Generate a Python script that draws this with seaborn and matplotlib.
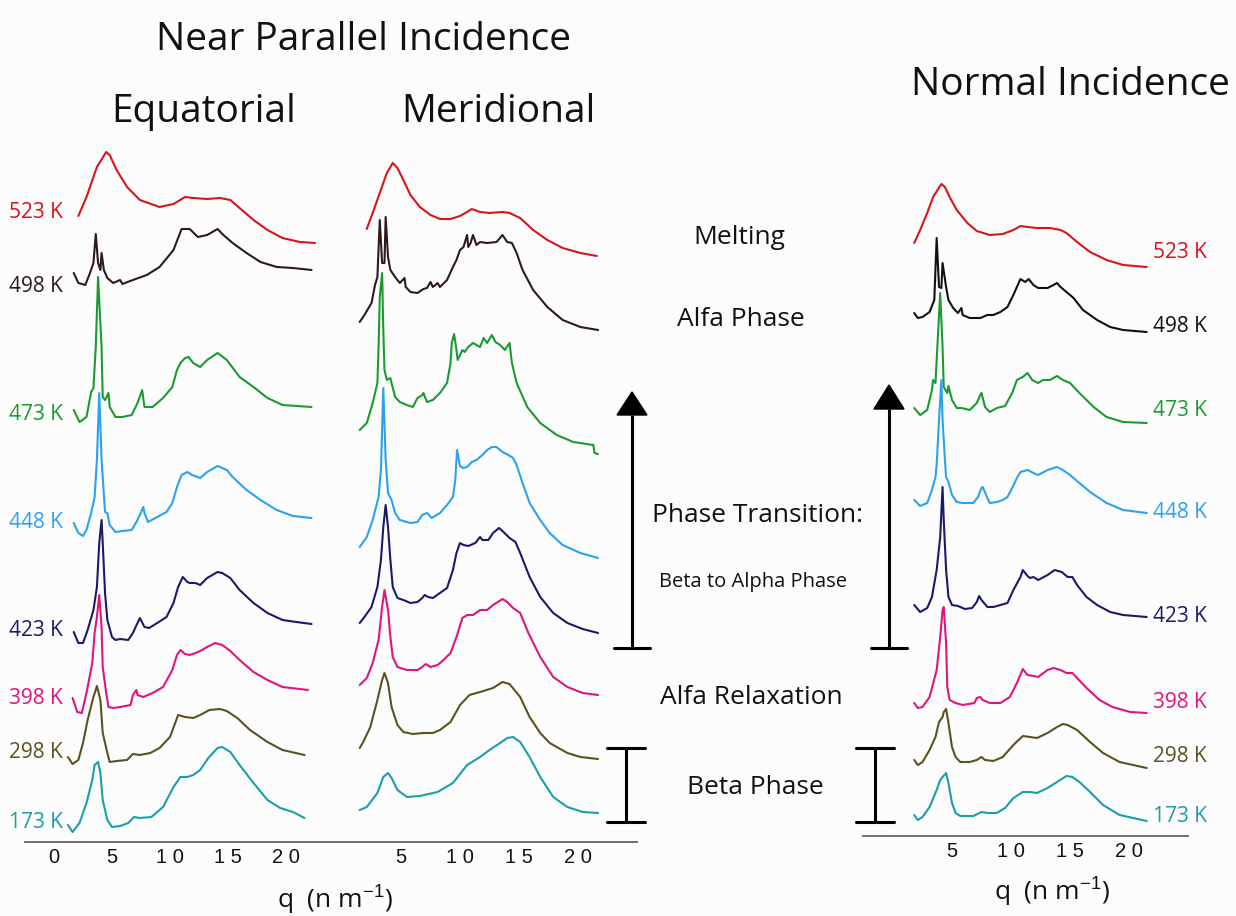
import numpy as np
import matplotlib
matplotlib.use("Agg")
import matplotlib.pyplot as plt
import seaborn as sns
from matplotlib.patches import Polygon

# temperaturas y colores
temps = [523, 498, 473, 448, 423, 398, 298, 173]
labels = ['523 K', '498 K', '473 K', '448 K', '423 K', '398 K', '298 K', '173 K']
colors = ['#d7141a', '#2e1a1c', '#1b9a31', '#2aa2ef', '#1a1a6b', '#e0157b', '#5b5222', '#1b9ea6']
colors_normal = ['#d7141a', '#111111', '#1b9a31', '#2aa2ef', '#1a1a6b', '#e0157b', '#5b5222', '#1b9ea6']

# desplazamientos verticales de cada curva (u.a.)
eq_offset = [599, 557, 420, 306, 199, 129, 78, 10]
mer_offset = [586, 512, 388, 284, 209, 147, 83, 29]
nor_offset = [569, 504, 413, 323, 219, 123, 68, 15]

# Equatorial: q (nm^-1) e intensidad (u.a.)
eq_q = {
    523: [2.1, 2.8, 3.7, 4.5, 4.8, 5.4, 6.3, 7.4, 9.1, 10.3, 11.3, 12.0, 13.2, 14.3, 15.2, 16.0, 17.2, 18.4, 19.7, 21.2, 22.5],
    498: [1.7, 2.1, 2.7, 3.1, 3.4, 3.6, 3.8, 4.0, 4.1, 4.3, 4.6, 5.1, 5.7, 5.9, 6.8, 8.0, 9.1, 10.3, 11.0, 11.7, 12.4, 13.2, 14.1, 14.6, 15.4, 16.6, 17.8, 19.2, 20.6, 22.2],
    473: [1.7, 2.2, 2.8, 3.2, 3.4, 3.6, 3.8, 4.1, 4.2, 4.4, 4.7, 4.8, 5.3, 5.9, 6.7, 7.2, 7.6, 7.8, 8.5, 9.4, 10.2, 10.6, 10.9, 11.3, 11.6, 12.0, 12.6, 13.2, 14.1, 14.9, 16.0, 17.2, 18.4, 19.7, 22.2],
    448: [1.7, 2.1, 2.5, 2.8, 3.2, 3.5, 3.7, 3.9, 4.1, 4.4, 4.6, 4.8, 5.3, 5.9, 6.7, 7.2, 7.7, 7.8, 8.1, 8.9, 9.7, 10.2, 10.6, 11.0, 11.5, 11.9, 12.6, 13.2, 14.1, 14.9, 15.4, 16.6, 17.8, 19.2, 20.6, 22.2],
    423: [1.7, 2.1, 2.5, 2.9, 3.4, 3.7, 3.9, 4.1, 4.2, 4.4, 4.6, 5.0, 5.3, 5.7, 6.4, 6.8, 7.4, 7.8, 8.2, 8.9, 9.7, 10.3, 10.7, 11.1, 11.5, 11.7, 12.2, 12.6, 13.2, 14.1, 14.5, 15.2, 16.0, 17.2, 18.4, 19.7, 20.9, 22.2],
    398: [1.6, 2.0, 2.4, 2.8, 3.3, 3.5, 3.7, 3.9, 4.1, 4.2, 4.5, 4.7, 5.1, 5.7, 6.6, 6.8, 7.1, 7.2, 7.7, 8.5, 9.4, 10.2, 10.6, 10.9, 11.3, 11.7, 12.2, 12.6, 13.2, 13.9, 14.5, 15.2, 16.0, 17.2, 18.4, 19.7, 21.9],
    298: [1.2, 1.6, 2.1, 2.5, 2.9, 3.4, 3.7, 4.0, 4.2, 4.6, 4.8, 5.4, 6.3, 6.8, 7.4, 8.3, 9.1, 10.0, 10.7, 11.3, 12.0, 12.6, 13.4, 14.3, 14.9, 15.8, 16.9, 18.4, 19.7, 21.6],
    173: [1.2, 1.6, 2.2, 2.8, 3.3, 3.5, 3.8, 4.0, 4.2, 4.6, 5.0, 5.7, 6.4, 6.9, 7.4, 8.4, 9.4, 10.3, 10.9, 11.5, 12.0, 12.6, 13.3, 14.1, 14.5, 15.2, 16.0, 17.2, 18.4, 19.5, 20.6, 21.6],
}
eq_i = {
    523: [27, 46, 76, 91, 88, 73, 56, 43, 36, 39, 46, 45, 44, 45, 43, 35, 23, 13, 5, 1, 0],
    498: [12, 2, 0, 12, 22, 51, 22, 15, 32, 15, 7, 2, 5, 1, 5, 10, 18, 35, 56, 56, 48, 50, 56, 50, 42, 32, 23, 18, 17, 15],
    473: [12, 0, 5, 30, 34, 75, 145, 75, 25, 22, 29, 15, 5, 5, 7, 19, 32, 15, 15, 24, 35, 52, 59, 64, 65, 59, 55, 62, 69, 62, 45, 35, 24, 17, 15],
    448: [13, 3, 0, 6, 23, 39, 76, 143, 76, 24, 23, 11, 4, 5, 6, 16, 29, 23, 14, 19, 24, 33, 49, 61, 64, 61, 58, 64, 70, 66, 59, 46, 36, 26, 20, 18],
    423: [11, 0, 0, 13, 33, 56, 100, 123, 100, 50, 23, 6, 3, 4, 3, 10, 25, 16, 15, 20, 26, 40, 56, 66, 61, 60, 60, 58, 65, 71, 70, 65, 53, 40, 30, 23, 21, 19],
    398: [15, 1, 0, 20, 50, 80, 96, 118, 86, 46, 20, 6, 5, 6, 8, 18, 23, 18, 16, 20, 26, 43, 58, 63, 59, 58, 60, 62, 66, 70, 68, 62, 53, 41, 33, 26, 23],
    298: [7, 0, 4, 21, 44, 67, 78, 64, 31, 11, 2, 3, 4, 10, 9, 11, 16, 27, 49, 47, 46, 49, 54, 55, 53, 46, 34, 22, 14, 9],
    173: [7, 0, 9, 29, 52, 67, 70, 59, 32, 12, 5, 6, 9, 15, 14, 15, 25, 45, 55, 55, 57, 62, 74, 84, 85, 80, 67, 49, 32, 24, 20, 14],
}

# Meridional
mer_q = {
    523: [2.1, 2.6, 3.2, 3.8, 4.3, 4.7, 5.2, 5.8, 6.6, 7.5, 8.3, 9.2, 10.0, 10.6, 11.0, 11.7, 12.5, 13.6, 14.2, 15.1, 16.2, 17.4, 18.7, 20.2, 21.6],
    498: [1.5, 1.9, 2.5, 2.8, 3.0, 3.2, 3.4, 3.6, 3.7, 3.9, 4.1, 4.5, 4.9, 5.3, 5.4, 5.8, 6.4, 6.9, 7.2, 7.5, 7.7, 8.1, 8.3, 8.9, 9.4, 9.7, 10.0, 10.3, 10.6, 10.7, 10.9, 11.1, 11.4, 11.7, 12.3, 13.1, 13.6, 14.0, 14.4, 14.8, 15.3, 16.2, 17.4, 18.7, 20.2, 21.7],
    473: [1.5, 2.1, 2.6, 3.0, 3.1, 3.2, 3.4, 3.5, 3.6, 3.8, 4.1, 4.2, 4.5, 4.9, 5.5, 6.0, 6.4, 6.8, 6.9, 7.2, 7.7, 8.3, 8.9, 9.2, 9.3, 9.5, 9.7, 9.8, 10.2, 10.4, 10.7, 11.1, 11.7, 12.0, 12.3, 12.7, 13.0, 13.4, 13.8, 14.2, 14.4, 14.8, 15.7, 16.8, 18.2, 19.6, 21.3, 21.4, 21.7],
    448: [1.5, 2.1, 2.6, 3.1, 3.3, 3.5, 3.7, 3.9, 4.2, 4.5, 4.9, 5.8, 6.4, 6.8, 7.2, 7.6, 8.3, 8.9, 9.4, 9.6, 9.75, 10.0, 10.25, 10.6, 11.0, 11.4, 11.9, 12.3, 12.7, 13.1, 13.6, 14.1, 14.5, 14.8, 15.3, 15.9, 16.8, 17.6, 18.7, 20.2, 21.7],
    423: [1.5, 1.9, 2.5, 3.0, 3.3, 3.5, 3.7, 3.9, 4.1, 4.3, 4.7, 5.2, 5.8, 6.4, 6.8, 7.0, 7.3, 7.7, 8.3, 8.9, 9.4, 9.7, 10.0, 10.3, 10.7, 11.3, 11.7, 11.9, 12.4, 12.8, 13.3, 13.6, 14.2, 14.7, 15.1, 15.9, 16.8, 17.9, 19.1, 20.4, 21.7],
    398: [1.5, 2.1, 2.6, 3.1, 3.4, 3.6, 3.9, 4.1, 4.3, 4.7, 5.5, 6.4, 6.8, 7.1, 7.5, 8.1, 8.6, 9.2, 9.7, 10.2, 10.6, 11.1, 11.7, 12.3, 12.8, 13.6, 14.0, 14.5, 15.1, 15.8, 16.8, 17.9, 19.1, 20.4, 21.7],
    298: [1.5, 1.8, 2.4, 3.0, 3.4, 3.6, 3.9, 4.2, 4.7, 5.2, 6.0, 6.9, 7.7, 8.3, 9.2, 10.0, 10.8, 11.7, 12.8, 13.6, 14.2, 15.1, 15.9, 16.8, 17.6, 19.1, 20.2, 21.7],
    173: [1.5, 2.1, 3.0, 3.5, 3.9, 4.2, 4.7, 5.5, 6.6, 8.1, 9.4, 10.6, 11.7, 12.5, 13.4, 14.0, 14.5, 15.1, 15.9, 16.8, 17.9, 19.1, 20.4, 21.7],
}
mer_i = {
    523: [27, 43, 63, 83, 93, 88, 76, 61, 49, 41, 37, 37, 40, 44, 47, 44, 43, 44, 43, 38, 26, 16, 8, 3, 0],
    498: [8, 15, 27, 45, 53, 110, 67, 67, 113, 73, 60, 53, 47, 52, 43, 38, 37, 41, 42, 48, 43, 47, 43, 50, 63, 70, 80, 83, 95, 83, 87, 95, 85, 88, 87, 88, 95, 88, 87, 77, 60, 40, 23, 10, 3, 0],
    473: [24, 31, 51, 71, 107, 157, 181, 124, 84, 74, 76, 71, 57, 52, 49, 47, 56, 59, 61, 52, 54, 61, 71, 91, 111, 120, 104, 94, 104, 102, 107, 111, 107, 116, 111, 119, 112, 109, 104, 111, 91, 71, 47, 31, 19, 12, 9, 1, 0],
    448: [11, 21, 38, 61, 88, 170, 98, 65, 58, 45, 38, 35, 36, 43, 45, 40, 45, 53, 61, 78, 108, 92, 90, 91, 96, 98, 103, 108, 111, 111, 106, 103, 100, 93, 75, 55, 38, 25, 13, 5, 0],
    423: [10, 16, 26, 46, 73, 106, 128, 106, 73, 46, 35, 33, 30, 31, 35, 38, 36, 35, 40, 45, 63, 80, 90, 88, 87, 90, 96, 93, 93, 100, 105, 102, 95, 91, 80, 56, 36, 20, 10, 4, 0],
    398: [10, 17, 32, 55, 88, 105, 85, 58, 38, 28, 25, 25, 28, 31, 28, 30, 35, 42, 58, 77, 80, 80, 85, 85, 90, 96, 93, 87, 82, 62, 38, 18, 8, 2, 0],
    298: [11, 17, 32, 59, 79, 86, 76, 52, 34, 27, 25, 26, 26, 29, 37, 54, 64, 67, 71, 77, 75, 62, 42, 26, 16, 6, 2, 0],
    173: [3, 6, 20, 36, 40, 35, 23, 16, 17, 21, 30, 48, 56, 63, 70, 75, 76, 71, 56, 36, 16, 6, 1, 0],
}

# Normal Incidence
nor_q = {
    523: [1.8, 2.3, 2.9, 3.4, 4.1, 4.4, 4.8, 5.4, 6.3, 7.1, 8.2, 9.3, 10.2, 10.8, 11.4, 12.2, 13.3, 14.2, 14.7, 15.6, 16.7, 18.1, 19.5, 21.5],
    498: [1.8, 2.1, 2.5, 3.1, 3.5, 3.7, 3.9, 4.1, 4.2, 4.5, 4.7, 5.1, 5.5, 5.8, 5.9, 6.5, 7.4, 8.0, 8.5, 9.1, 9.7, 10.2, 10.8, 11.2, 11.5, 11.9, 12.3, 13.1, 13.6, 13.9, 14.2, 14.7, 15.3, 16.1, 17.3, 18.4, 19.5, 21.5],
    473: [1.8, 2.3, 2.9, 3.3, 3.4, 3.6, 3.7, 4.0, 4.2, 4.3, 4.6, 4.7, 5.0, 5.4, 5.8, 6.5, 7.1, 7.4, 7.5, 7.8, 8.2, 8.8, 9.5, 10.1, 10.5, 10.8, 11.0, 11.4, 11.8, 12.3, 12.7, 13.3, 13.9, 14.4, 15.0, 15.8, 17.0, 18.1, 19.5, 21.5],
    448: [1.8, 2.3, 2.9, 3.3, 3.6, 3.7, 3.9, 4.1, 4.2, 4.4, 4.5, 4.7, 5.0, 5.4, 5.9, 6.8, 7.2, 7.5, 7.6, 8.0, 8.2, 8.8, 9.3, 9.7, 10.1, 10.5, 10.8, 11.4, 11.9, 12.3, 13.1, 13.9, 14.4, 15.0, 15.6, 16.7, 18.1, 19.5, 21.5],
    423: [1.8, 2.3, 2.9, 3.3, 3.7, 4.0, 4.2, 4.3, 4.5, 4.7, 5.0, 5.5, 6.1, 6.7, 7.1, 7.3, 7.5, 8.0, 8.5, 9.1, 9.7, 10.2, 10.8, 11.0, 11.4, 11.6, 11.9, 12.3, 13.1, 13.7, 14.3, 14.8, 15.2, 15.6, 16.4, 17.3, 18.4, 19.5, 21.5],
    398: [1.8, 2.1, 2.5, 3.1, 3.7, 4.0, 4.2, 4.3, 4.5, 4.6, 4.8, 5.3, 5.9, 6.9, 7.1, 7.4, 7.6, 8.2, 9.1, 9.9, 10.5, 10.9, 11.0, 11.4, 11.9, 12.3, 13.1, 13.6, 14.2, 14.7, 15.2, 15.6, 16.4, 17.5, 18.6, 20.1, 21.5],
    298: [1.8, 2.1, 2.5, 3.1, 3.6, 3.9, 4.2, 4.3, 4.5, 4.7, 5.0, 5.3, 5.7, 6.5, 7.1, 7.5, 7.8, 8.5, 9.3, 10.2, 11.0, 11.6, 12.2, 13.1, 13.9, 14.4, 14.8, 15.6, 16.7, 17.8, 19.2, 21.5],
    173: [1.8, 2.1, 2.5, 3.1, 3.7, 4.0, 4.2, 4.5, 4.7, 5.0, 5.3, 5.7, 6.8, 7.5, 8.0, 8.8, 9.5, 10.2, 11.0, 11.6, 12.2, 13.1, 13.9, 14.7, 15.2, 15.8, 16.7, 17.8, 19.2, 21.5],
}
nor_i = {
    523: [24, 37, 54, 70, 83, 80, 70, 57, 44, 36, 32, 33, 37, 41, 40, 39, 39, 37, 34, 25, 15, 7, 2, 0],
    498: [19, 14, 15, 20, 32, 94, 45, 44, 69, 45, 32, 24, 19, 24, 17, 14, 14, 17, 17, 20, 25, 37, 53, 50, 53, 47, 44, 44, 47, 49, 45, 40, 34, 22, 12, 5, 2, 0],
    473: [15, 8, 13, 33, 43, 40, 63, 130, 76, 36, 30, 37, 23, 15, 15, 13, 20, 28, 30, 16, 11, 15, 17, 30, 43, 45, 46, 50, 43, 40, 43, 43, 47, 43, 40, 30, 16, 6, 1, 0],
    448: [13, 7, 10, 23, 36, 48, 93, 133, 93, 53, 36, 31, 18, 11, 10, 10, 16, 25, 26, 15, 10, 11, 13, 16, 25, 35, 41, 43, 40, 38, 43, 46, 43, 38, 32, 21, 10, 3, 0],
    423: [12, 5, 9, 20, 47, 80, 130, 97, 47, 20, 12, 11, 8, 9, 15, 21, 17, 10, 10, 12, 14, 27, 40, 47, 41, 39, 40, 37, 42, 47, 45, 40, 40, 32, 20, 12, 5, 2, 0],
    398: [10, 5, 6, 16, 43, 76, 103, 106, 70, 26, 13, 10, 8, 10, 15, 16, 13, 10, 10, 16, 30, 41, 44, 38, 37, 36, 43, 45, 43, 40, 40, 35, 25, 13, 6, 1, 0],
    298: [8, 3, 6, 18, 31, 46, 51, 56, 59, 45, 21, 11, 6, 6, 8, 11, 8, 7, 11, 23, 32, 31, 30, 35, 41, 44, 43, 38, 26, 15, 6, 0],
    173: [6, 1, 4, 14, 31, 41, 44, 48, 38, 18, 8, 5, 5, 9, 8, 8, 13, 23, 29, 29, 28, 33, 39, 45, 44, 39, 29, 16, 6, 0],
}

sns.set_style("white")
plt.rcParams['font.family'] = ['Open Sans', 'DejaVu Sans']
plt.rcParams['mathtext.fontset'] = 'custom'
plt.rcParams['mathtext.rm'] = 'Liberation Sans'
plt.rcParams['mathtext.it'] = 'Liberation Sans'

W, H = 1236, 916
fig = plt.figure(figsize=(W / 100, H / 100), dpi=100)
fig.patch.set_facecolor('#fcfcfc')


def make_panel(x0, x1, ybot, ytop, q0, scale, ticks, labelled):
    ax = fig.add_axes([x0 / W, (H - ybot) / H, (x1 - x0) / W, (ybot - ytop) / H])
    ax.set_xlim((x0 - q0) / scale, (x1 - q0) / scale)
    ax.set_ylim(0, ybot - ytop)
    ax.patch.set_alpha(0)
    for s in ['top', 'right', 'left']:
        ax.spines[s].set_visible(False)
    ax.spines['bottom'].set_color('#6e6e6e')
    ax.spines['bottom'].set_linewidth(1.4)
    ax.set_yticks([])
    ax.set_xticks(ticks)
    ax.set_xticklabels([(' '.join(str(int(t))) if t in labelled else '') for t in ticks],
                       family='Liberation Sans', fontsize=14.5, color='#111111')
    ax.tick_params(axis='x', direction='inout', length=6, width=1, color='#6e6e6e', pad=1)
    ax.set_xlabel('')
    ax.set_ylabel('')
    return ax


ax_eq = make_panel(25, 330, 842, 130, 54, 11.6, np.arange(-2.5, 23, 2.5), [0, 5, 10, 15, 20])
ax_mer = make_panel(330, 637, 842, 130, 342, 11.8, np.arange(5, 23, 2.5), [5, 10, 15, 20])
ax_nor = make_panel(863, 1188, 836, 130, 893, 11.8, np.arange(5, 23, 2.5), [5, 10, 15, 20])

for k, t in enumerate(temps):
    sns.lineplot(x=eq_q[t], y=np.array(eq_i[t]) + eq_offset[k], ax=ax_eq,
                 color=colors[k], lw=1.5, sort=False, estimator=None)
    sns.lineplot(x=mer_q[t], y=np.array(mer_i[t]) + mer_offset[k], ax=ax_mer,
                 color=colors[k], lw=1.5, sort=False, estimator=None)
    sns.lineplot(x=nor_q[t], y=np.array(nor_i[t]) + nor_offset[k], ax=ax_nor,
                 color=colors_normal[k], lw=1.5, sort=False, estimator=None)

# capa de textos en pixeles
ov = fig.add_axes([0, 0, 1, 1])
ov.set_xlim(0, W)
ov.set_ylim(H, 0)
ov.axis('off')

ov.text(363, 40, 'Near Parallel Incidence', fontsize=28, ha='center', va='center', color='#111')
ov.text(204, 112, 'Equatorial', fontsize=28, ha='center', va='center', color='#111')
ov.text(498, 112, 'Meridional', fontsize=28, ha='center', va='center', color='#111')
ov.text(1070, 85, 'Normal Incidence', fontsize=28, ha='center', va='center', color='#111')

eq_label_y = [213, 287, 415, 523, 630, 698, 753, 823]
nor_label_y = [253, 327, 410, 512, 617, 703, 757, 817]
for k in range(len(temps)):
    ov.text(63, eq_label_y[k], labels[k], fontsize=15, ha='right', va='center', color=colors[k])
    ov.text(1153, nor_label_y[k], labels[k], fontsize=15, ha='left', va='center', color=colors_normal[k])

ov.text(739, 238, 'Melting', fontsize=19, ha='center', va='center', color='#111')
ov.text(741, 320, 'Alfa Phase', fontsize=19, ha='center', va='center', color='#111')
ov.text(757, 515, 'Phase Transition:', fontsize=19, ha='center', va='center', color='#111')
ov.text(753, 582, 'Beta to Alpha Phase', fontsize=14.5, ha='center', va='center', color='#111')
ov.text(751, 697, 'Alfa Relaxation', fontsize=19, ha='center', va='center', color='#111')
ov.text(755, 787, 'Beta Phase', fontsize=19, ha='center', va='center', color='#111')

# flechas de transicion
for xa, tip, base, yb in [(632, 392, 415, 648), (889, 385, 409, 648)]:
    ov.plot([xa, xa], [yb, base], color='black', lw=2.2, solid_capstyle='butt')
    ov.plot([xa - 18, xa + 18], [yb, yb], color='black', lw=2.2)
    ov.add_patch(Polygon([[xa - 15, base], [xa + 15, base], [xa, tip]], closed=True, color='black'))

# barras de fase beta
for xb in [626, 875]:
    ov.plot([xb, xb], [748, 822], color='black', lw=2.2)
    ov.plot([xb - 19, xb + 19], [748, 748], color='black', lw=2.2)
    ov.plot([xb - 19, xb + 19], [822, 822], color='black', lw=2.2)

ov.text(335, 900, 'q  (n m$^{-1}$)', fontsize=19, ha='center', va='center', color='#111')
ov.text(1052, 892, 'q  (n m$^{-1}$)', fontsize=19, ha='center', va='center', color='#111')

fig.savefig('out.png', dpi=100, facecolor=fig.get_facecolor())
